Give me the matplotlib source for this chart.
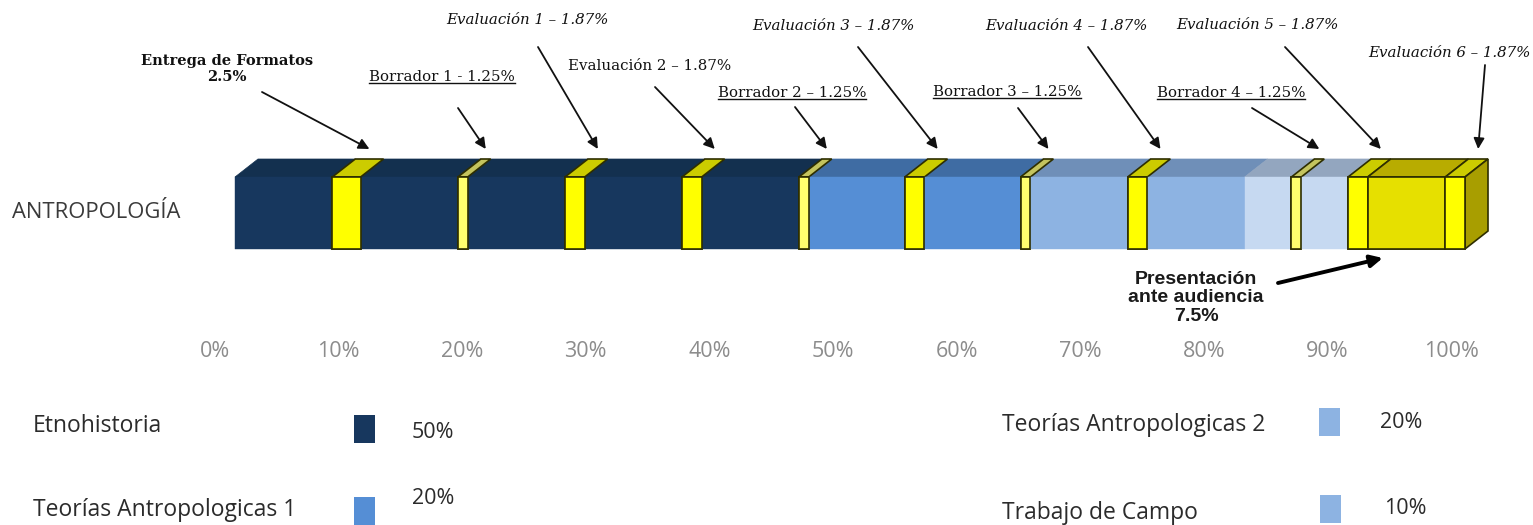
import matplotlib.pyplot as plt
from matplotlib.lines import Line2D
from matplotlib.patches import Polygon, Rectangle
import numpy as np

# stacked bar, left to right (share of the bar)
segment_kinds = ["etno", "entrega", "etno", "borrador", "etno", "eval", "etno", "eval",
                 "etno", "borrador", "teo1", "eval", "teo1", "borrador", "teo2", "eval",
                 "teo2", "campo", "borrador", "campo", "eval", "presentacion", "eval"]
segment_values = [7.9, 2.3, 7.9, 0.8, 7.9, 1.6, 7.9, 1.6,
                  7.9, 0.8, 7.8, 1.6, 7.8, 0.8, 7.9, 1.6,
                  7.9, 3.8, 0.8, 3.8, 1.6, 6.3, 1.6]

# callouts: text and index of the segment they point at
callout_texts = ["Entrega de Formatos\n2.5%", "Borrador 1 - 1.25%", "Evaluación 1 – 1.87%",
                 "Evaluación 2 – 1.87%", "Borrador 2 – 1.25%", "Evaluación 3 – 1.87%",
                 "Borrador 3 – 1.25%", "Evaluación 4 – 1.87%", "Borrador 4 – 1.25%",
                 "Evaluación 5 – 1.87%", "Evaluación 6 – 1.87%"]
callout_segments = [1, 3, 5, 7, 9, 11, 13, 15, 18, 20, 22]
callout_styles = ["bold", "under", "italic", "plain", "under", "italic",
                  "under", "italic", "under", "italic", "italic"]

tick_values = [0, 10, 20, 30, 40, 50, 60, 70, 80, 90, 100]

legend_names = ["Etnohistoria", "Teorías Antropologicas 1", "Teorías Antropologicas 2", "Trabajo de Campo"]
legend_shares = [50, 20, 20, 10]
legend_kinds = ["etno", "teo1", "teo2", "teo2"]

FRONT = {"etno": "#17375E", "teo1": "#558ED5", "teo2": "#8DB3E2", "campo": "#C6D9F1",
         "entrega": "#FFFF00", "eval": "#FFFF00", "borrador": "#FFFF6E", "presentacion": "#E6E000"}
TOP = {"etno": "#13304F", "teo1": "#3F6CA3", "teo2": "#6F8FB8", "campo": "#93A6BF",
       "entrega": "#CCCC00", "eval": "#CCCC00", "borrador": "#C4C45E", "presentacion": "#B8AC00"}
SIDE = "#A89E00"
EDGE = "#2E2E00"
YELLOWS = {"entrega", "eval", "borrador", "presentacion"}

W, H = 1533, 525
BAR_L, BAR_R = 235, 1465          # front face, pixels
FRONT_TOP, FRONT_BOT = 177, 249
DEPTH_PX, DEPTH_Y = 23, 18

fig = plt.figure(figsize=(W / 100, H / 100), dpi=100)
ax = fig.add_axes([0, 0, 1, 1])
total = sum(segment_values)
scale = (BAR_R - BAR_L) / total
ax.set_xlim(-BAR_L / scale, (W - BAR_L) / scale)
ax.set_ylim(H, 0)
ax.axis("off")
dx = DEPTH_PX / scale


def px(x):
    return (x - BAR_L) / scale


lefts = np.concatenate([[0], np.cumsum(segment_values)[:-1]])
rights = lefts + np.array(segment_values)

# top faces
back = FRONT_TOP - DEPTH_Y
for kind, x0, x1 in zip(segment_kinds, lefts, rights):
    yel = kind in YELLOWS
    ax.add_patch(Polygon([(x0, FRONT_TOP), (x1, FRONT_TOP), (x1 + dx, back), (x0 + dx, back)],
                         closed=True, facecolor=TOP[kind], edgecolor=EDGE if yel else TOP[kind],
                         lw=1.2 if yel else 0.5, zorder=2 if yel else 1))

# right side of the last block
xe = rights[-1]
ax.add_patch(Polygon([(xe, FRONT_TOP), (xe + dx, back), (xe + dx, FRONT_BOT - DEPTH_Y), (xe, FRONT_BOT)],
                     closed=True, facecolor=SIDE, edgecolor=EDGE, lw=1.2, zorder=2))

# front faces
yel_mask = [k in YELLOWS for k in segment_kinds]
ax.barh((FRONT_TOP + FRONT_BOT) / 2, segment_values, left=lefts, height=FRONT_BOT - FRONT_TOP,
        color=[FRONT[k] for k in segment_kinds],
        edgecolor=[EDGE if y else FRONT[k] for y, k in zip(yel_mask, segment_kinds)],
        linewidth=[1.2 if y else 0.3 for y in yel_mask], zorder=3)
# redraw yellow fronts so their outlines sit above neighbours
for kind, x0, v in zip(segment_kinds, lefts, segment_values):
    if kind in YELLOWS:
        ax.add_patch(Rectangle((x0, FRONT_TOP), v, FRONT_BOT - FRONT_TOP, facecolor=FRONT[kind],
                               edgecolor=EDGE, lw=1.2, zorder=4))

ax.text(px(12), 213, "ANTROPOLOGÍA", fontsize=15.8, family="Open Sans",
        color="#3A3A3A", ha="left", va="center")

# callout layout (pixels): text centre, arrow start
text_pos = [(227, 69), (442, 77), (527, 20), (650, 66), (792, 93), (833, 26),
            (1007, 92), (1066, 26), (1231, 93), (1257, 25), (1449, 53)]
arrow_start = [(262, 92), (458, 108), (538, 47), (655, 87), (795, 107), (858, 47),
               (1018, 108), (1088, 47), (1252, 108), (1285, 47), (1485, 65)]

styles = {"bold": dict(weight="bold"), "under": dict(), "italic": dict(style="italic"), "plain": dict()}
underlined = []
for txt, seg, st, (tx, ty), (sx, sy) in zip(callout_texts, callout_segments, callout_styles,
                                            text_pos, arrow_start):
    t = ax.text(px(tx), ty, txt, ha="center", va="center", family="DejaVu Serif",
                fontsize=10.8 if st != "bold" else 10.5, color="#111111", linespacing=1.1,
                zorder=6, **styles[st])
    if st == "under":
        underlined.append(t)
    tip_x = (lefts[seg] + rights[seg]) / 2 + dx
    ax.annotate("", xy=(tip_x, 149), xytext=(px(sx), sy),
                arrowprops=dict(arrowstyle="-|>", color="#111111", lw=1.3, mutation_scale=16,
                                shrinkA=0, shrinkB=0), zorder=6)

# presentation callout
pres = len(segment_values) - 2
ax.text(px(1196), 298, "Presentación\nante audiencia\n7.5%", ha="center", va="center",
        family="Liberation Sans", weight="bold", fontsize=14, color="#1A1A1A", linespacing=1.12)
ax.annotate("", xy=(lefts[pres] + 15 / scale, 258), xytext=(px(1278), 283),
            arrowprops=dict(arrowstyle="-|>", color="#000000", lw=2.8, mutation_scale=18,
                            shrinkA=0, shrinkB=0))

# percentage scale (floor of the 3D chart)
ax2 = fig.add_axes([215 / W, 1 - 341 / H, (1451 - 215) / W, 0.0001])
ax2.set_xlim(0, 100)
ax2.set_xticks(tick_values)
ax2.set_xticklabels([f"{v}%" for v in tick_values], family="Open Sans", fontsize=15.5, color="#8C8C8C")
ax2.tick_params(axis="x", length=0, pad=0)
ax2.set_yticks([])
for s in ax2.spines.values():
    s.set_visible(False)
ax2.patch.set_alpha(0)

# legend
leg_text_pos = [(33, 426), (33, 510), (1002, 425), (1002, 513)]
leg_box_pos = [(354, 415), (354, 497), (1319, 408), (1320, 495)]
leg_val_pos = [(412, 433), (412, 498), (1380, 422), (1384, 509)]
for name, share, kind, (tx, ty), (bx, by), (vx, vy) in zip(legend_names, legend_shares, legend_kinds,
                                                            leg_text_pos, leg_box_pos, leg_val_pos):
    ax.text(px(tx), ty, name, ha="left", va="center", family="Open Sans", fontsize=16.5, color="#2B2B2B")
    ax.add_patch(Rectangle((px(bx), by), 21 / scale, 28, facecolor=FRONT[kind], edgecolor="none"))
    ax.text(px(vx), vy, f"{share}%", ha="left", va="center", family="Open Sans", fontsize=15.5, color="#2B2B2B")

# underline the draft labels
fig.canvas.draw()
r = fig.canvas.get_renderer()
for t in underlined:
    bb = t.get_window_extent(r)
    fig.add_artist(Line2D([bb.x0 / W, bb.x1 / W], [(bb.y0 + 1) / H, (bb.y0 + 1) / H],
                          transform=fig.transFigure, color="#111111", lw=1.0))

fig.savefig("out.png", dpi=100)
